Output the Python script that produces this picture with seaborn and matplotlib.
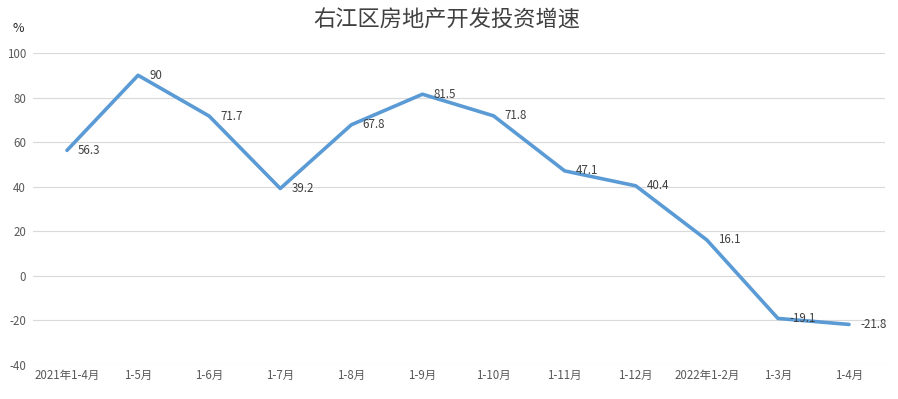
import pandas as pd
import matplotlib
matplotlib.use("Agg")
import matplotlib.pyplot as plt
import seaborn as sns

# data
periods = ["2021年1-4月", "1-5月", "1-6月", "1-7月", "1-8月", "1-9月",
           "1-10月", "1-11月", "1-12月", "2022年1-2月", "1-3月", "1-4月"]
growth = [56.3, 90, 71.7, 39.2, 67.8, 81.5, 71.8, 47.1, 40.4, 16.1, -19.1, -21.8]
value_labels = ["56.3", "90", "71.7", "39.2", "67.8", "81.5", "71.8", "47.1",
                "40.4", "16.1", "-19.1", "-21.8"]
yticks = [-40, -20, 0, 20, 40, 60, 80, 100]

df = pd.DataFrame({"pos": range(len(periods)), "period": periods, "growth": growth})

sns.set_theme(style="white")
plt.rcParams["font.family"] = ["Noto Sans CJK SC", "DejaVu Sans"]

fig = plt.figure(figsize=(8.98, 3.99), dpi=100)
ax = fig.add_axes([33 / 898, 34 / 399, 852 / 898, 312 / 399])

sns.lineplot(data=df, x="pos", y="growth", color="#5B9BD5", linewidth=2.6, ax=ax)

for x, y, t in zip(df["pos"], df["growth"], value_labels):
    ax.annotate(t, (x, y), xytext=(8, 0), textcoords="offset points",
                ha="left", va="center", fontsize=8.3, color="#404040")

ax.set_xlim(-0.478, 11.506)
ax.set_ylim(-40, 100)
ax.set_yticks(yticks)
ax.set_yticklabels([str(v) for v in yticks], fontsize=8.3, color="#595959")
ax.set_xticks(df["pos"])
ax.set_xticklabels(periods, fontsize=8.3, color="#595959")
ax.tick_params(axis="both", length=0, pad=3)
ax.tick_params(axis="y", pad=5)
ax.grid(axis="y", color="#D9D9D9", linewidth=0.8)
ax.set_axisbelow(True)
for s in ax.spines.values():
    s.set_visible(False)
ax.set_xlabel("")
ax.set_ylabel("")

fig.text(18 / 898, 1 - 28 / 399, "%", fontsize=9, color="#262626", ha="center", va="center")
fig.text(447 / 898, 1 - 20 / 399, "右江区房地产开发投资增速", fontsize=16,
         color="#404040", ha="center", va="center")

fig.savefig("out.png", dpi=100, facecolor="white")
